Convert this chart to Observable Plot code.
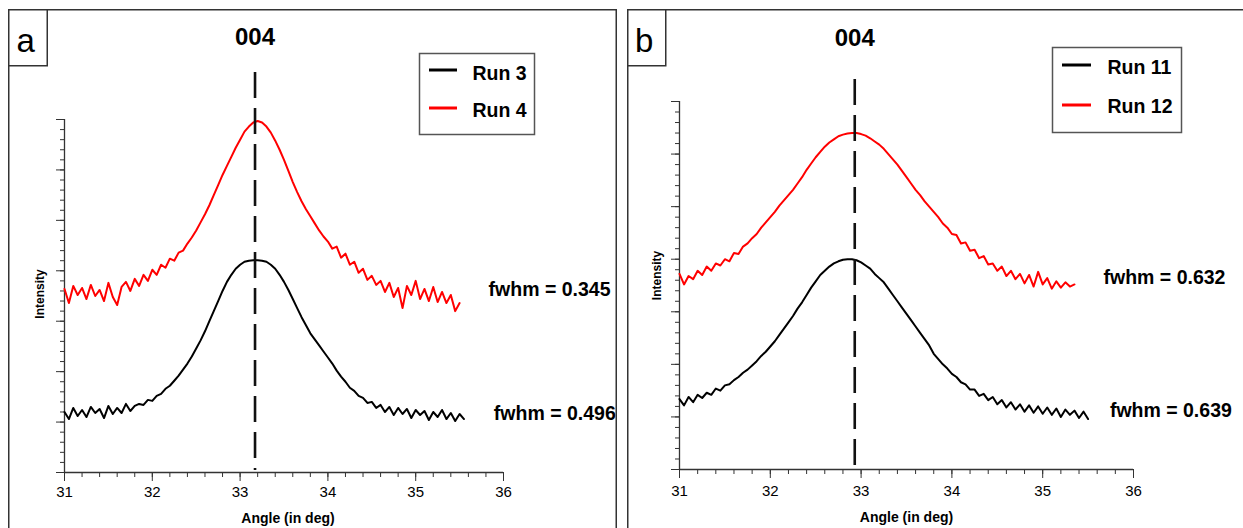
<!DOCTYPE html>
<html>
<head>
<meta charset="utf-8">
<script src="https://cdn.jsdelivr.net/npm/d3@7"></script>
<script src="https://cdn.jsdelivr.net/npm/@observablehq/plot@0.6"></script>
<style>
  html, body { margin: 0; padding: 0; background: #fff; }
  #root { position: relative; width: 1243px; height: 528px; overflow: hidden; font-family: "Liberation Sans", Arial, sans-serif; }
  .plot { position: absolute; }
  #overlay { position: absolute; left: 0; top: 0; pointer-events: none; }
</style>
</head>
<body>
<div id="root"></div>
<script>
// ---------------- data ----------------
const xMajorTicks = [31, 32, 33, 34, 35, 36];
const xMinorTicks = d3.range(31, 36.0001, 0.2);
const yMajorTicks = [0, 5, 10, 15, 20, 25, 30, 35];
const yMinorTicks = d3.range(0, 35.0001, 1);

const angleStart = 31.0;
const angleStep = 0.05;

// Panel a
const runLabelsA = ["Run 3", "Run 4"];
const fwhmLabelsA = ["fwhm = 0.496", "fwhm = 0.345"];
const reflectionA = "004";
const peakAngleA = 33.17;
const run3 = [6.0,5.3,6.4,5.6,6.2,5.5,6.5,5.9,6.3,5.4,
  6.6,5.8,6.4,5.9,6.8,6.1,6.6,6.8,6.7,7.2,
  7.1,7.6,7.8,8.3,8.6,9.1,9.6,10.2,10.8,11.5,
  12.3,13.1,14.0,15.0,16.0,17.0,18.0,18.9,19.6,20.2,
  20.6,20.9,21.0,21.05,21.05,21.0,20.9,20.6,20.2,19.6,
  18.9,18.1,17.2,16.3,15.4,14.6,13.8,13.2,12.6,12.0,
  11.4,10.8,10.1,9.5,9.0,8.4,8.1,7.6,7.4,6.9,
  7.0,6.4,6.7,6.0,6.5,5.7,6.4,5.8,6.3,5.4,
  6.2,5.7,6.1,5.2,6.0,5.5,6.2,5.3,5.9,5.1,
  5.8,5.3];
const run4 = [18.2,16.8,18.5,17.6,18.3,17.2,18.6,17.5,18.1,17.0,
  18.8,17.4,16.6,18.4,18.9,18.0,19.2,18.5,19.6,19.0,
  20.1,19.6,20.6,20.3,21.2,21.0,21.8,22.0,22.7,23.3,
  24.0,24.8,25.6,26.5,27.5,28.5,29.5,30.4,31.3,32.2,
  33.0,33.8,34.3,34.7,34.85,34.7,34.3,33.7,32.9,32.0,
  31.0,29.9,28.8,27.8,26.9,26.1,25.4,24.7,24.0,23.4,
  22.9,22.2,22.4,21.3,21.7,20.6,20.9,19.8,20.2,19.1,
  19.5,18.6,19.0,17.9,18.8,17.4,18.3,16.3,18.5,17.6,
  19.0,17.2,18.2,17.0,18.4,16.9,17.9,16.8,17.6,16.0,
  16.8];

// Panel b
const runLabelsB = ["Run 11", "Run 12"];
const fwhmLabelsB = ["fwhm = 0.639", "fwhm = 0.632"];
const reflectionB = "004";
const peakAngleB = 32.93;
const run11 = [6.7,6.1,6.9,6.4,7.1,6.8,7.3,7.1,7.7,7.5,
  8.0,8.1,8.5,8.8,9.2,9.5,9.9,10.3,10.8,11.2,
  11.7,12.2,12.8,13.4,14.0,14.6,15.3,15.9,16.6,17.3,
  17.9,18.5,18.9,19.3,19.6,19.8,19.95,20.0,20.0,19.9,
  19.7,19.4,19.1,18.6,18.2,17.8,17.2,16.6,16.0,15.4,
  14.8,14.2,13.6,13.0,12.4,11.8,11.0,10.5,10.0,9.6,
  9.1,8.8,8.3,8.1,7.6,7.6,7.0,7.2,6.6,6.9,
  6.2,6.6,5.9,6.4,5.7,6.2,5.5,6.1,5.4,6.0,
  5.3,5.9,5.2,5.8,5.0,5.7,5.2,5.6,4.9,5.5,
  4.8];
const run12 = [18.6,17.6,18.4,18.1,18.9,18.5,19.3,18.9,19.6,19.4,
  20.0,19.8,20.6,20.5,21.2,21.5,22.0,22.4,23.0,23.5,
  24.0,24.5,25.1,25.6,26.1,26.6,27.2,27.8,28.5,29.1,
  29.7,30.2,30.7,31.1,31.4,31.7,31.85,31.95,32.0,32.0,
  31.9,31.75,31.5,31.2,30.9,30.5,30.0,29.5,29.0,28.4,
  27.8,27.2,26.6,26.1,25.5,25.0,24.5,24.0,23.4,23.0,
  22.4,22.3,21.5,21.6,20.8,20.9,20.1,20.3,19.5,19.6,
  18.9,19.3,18.4,18.9,18.1,18.6,17.7,18.5,17.4,18.8,
  17.6,18.2,17.2,17.9,17.3,17.8,17.4,17.6];

// ---------------- helpers ----------------
const FONT = '"Liberation Sans", Arial, sans-serif';
const AXIS = "#333";
const runColors = ["#000000", "#ff0000"];

function toRows(values, run) {
  return values.map((v, i) => ({angle: +(angleStart + i * angleStep).toFixed(2), intensity: v, run}));
}

function makePanel(cfg) {
  const rows = [...toRows(cfg.series[0], cfg.runs[0]), ...toRows(cfg.series[1], cfg.runs[1])];
  const notes = cfg.fwhm.map((label, i) => ({label, angle: cfg.fwhmAt[i][0], intensity: cfg.fwhmAt[i][1]}));
  return Plot.plot({
    width: cfg.width, height: cfg.height,
    marginLeft: cfg.ml, marginRight: cfg.mr, marginTop: cfg.mt, marginBottom: cfg.mb,
    style: {background: "transparent", overflow: "visible", fontFamily: FONT, color: "#000"},
    x: {domain: [31, 36], label: null},
    y: {domain: [0, 35], label: null},
    color: {domain: cfg.runs, range: runColors},
    marks: [
      Plot.axisX({ticks: xMinorTicks, tickSize: 5, tickFormat: () => "", label: null, stroke: AXIS}),
      Plot.axisX({ticks: xMajorTicks, tickSize: 9, tickPadding: cfg.tickPad, fontSize: 15, tickFormat: d => String(d), label: null, stroke: AXIS, fill: "#000"}),
      Plot.axisY({ticks: yMinorTicks, tickSize: 4, tickFormat: () => "", label: null, stroke: AXIS}),
      Plot.axisY({ticks: yMajorTicks, tickSize: 8, tickFormat: () => "", label: null, stroke: AXIS}),
      Plot.ruleY([0], {stroke: AXIS, strokeWidth: 1.3}),
      Plot.ruleX([31], {stroke: AXIS, strokeWidth: 1.3}),
      Plot.line(rows, {x: "angle", y: "intensity", z: "run", stroke: "run", strokeWidth: 2}),
      Plot.ruleX([cfg.peak], {stroke: "#111", strokeWidth: 2.6, strokeDasharray: "26,10", insetTop: cfg.dashInset, insetBottom: 2}),
      Plot.text([cfg.reflection], {x: () => cfg.peak, frameAnchor: "top", dy: cfg.refDy, fontSize: 24, fontWeight: "bold", textAnchor: "middle", lineAnchor: "middle"}),
      Plot.text(notes, {x: "angle", y: "intensity", text: "label", textAnchor: "start", fontSize: 19.5, fontWeight: "bold"}),
      Plot.text(["Intensity"], {frameAnchor: "left", rotate: -90, dx: cfg.yLabelDx, dy: cfg.yLabelDy, textAnchor: "middle", lineAnchor: "middle", fontSize: 12, fontWeight: "bold"}),
      Plot.text(["Angle (in deg)"], {frameAnchor: "bottom", dy: cfg.xLabelDy, dx: cfg.xLabelDx, textAnchor: "middle", lineAnchor: "middle", fontSize: 14, fontWeight: "bold"})
    ]
  });
}

const root = document.getElementById("root");

function place(svg, left, top) {
  const d = document.createElement("div");
  d.className = "plot";
  d.style.left = left + "px";
  d.style.top = top + "px";
  d.appendChild(svg);
  root.appendChild(d);
}

place(makePanel({
  width: 609, height: 519, ml: 56, mr: 114, mt: 110, mb: 56, tickPad: 5,
  series: [run3, run4], runs: runLabelsA, fwhm: fwhmLabelsA,
  fwhmAt: [[35.89, 5.85], [35.83, 18.1]],
  peak: peakAngleA, reflection: reflectionA, dashInset: -47, refDy: -82,
  yLabelDx: -24, yLabelDy: -2, xLabelDy: 46, xLabelDx: 4
}), 8, 9);

place(makePanel({
  width: 616, height: 519, ml: 52, mr: 110, mt: 92, mb: 59, tickPad: 7,
  series: [run11, run12], runs: runLabelsB, fwhm: fwhmLabelsB,
  fwhmAt: [[35.74, 5.6], [35.67, 18.2]],
  peak: peakAngleB, reflection: reflectionB, dashInset: -22, refDy: -63,
  yLabelDx: -22, yLabelDy: -10, xLabelDy: 48, xLabelDx: 0
}), 627, 9);

// ---------------- frames, panel tags, legends ----------------
const ov = d3.select(root).append("svg").attr("id", "overlay")
  .attr("width", 1243).attr("height", 528).attr("font-family", FONT);

const frameStroke = "#333";
ov.append("path").attr("d", "M8.75,528V9.75H616.25V528").attr("fill", "none").attr("stroke", frameStroke).attr("stroke-width", 1.5);
ov.append("path").attr("d", "M627.75,528V9.75H1243").attr("fill", "none").attr("stroke", frameStroke).attr("stroke-width", 1.5);

function tag(x, y, w, h, letter, tx) {
  ov.append("rect").attr("x", x).attr("y", y).attr("width", w).attr("height", h)
    .attr("fill", "#fff").attr("stroke", frameStroke).attr("stroke-width", 1.5);
  ov.append("text").attr("x", tx).attr("y", 52).attr("font-size", 33).attr("fill", "#000").text(letter);
}
tag(8.75, 9.75, 38.5, 56, "a", 16.5);
tag(627.75, 9.75, 38, 56, "b", 635);

function legend(box, lineX, lineYs, textX, textYs, labels) {
  ov.append("rect").attr("x", box[0]).attr("y", box[1]).attr("width", box[2]).attr("height", box[3])
    .attr("fill", "#fff").attr("stroke", "#555").attr("stroke-width", 1.5);
  labels.forEach((lab, i) => {
    ov.append("line").attr("x1", lineX[0]).attr("x2", lineX[1]).attr("y1", lineYs[i]).attr("y2", lineYs[i])
      .attr("stroke", runColors[i]).attr("stroke-width", 3);
    ov.append("text").attr("x", textX).attr("y", textYs[i]).attr("font-size", 19.5).attr("font-weight", "bold")
      .attr("fill", "#000").text(lab);
  });
}
legend([419.5, 53.5, 115, 81], [429, 457], [70, 108], 472.5, [80, 117], runLabelsA);
legend([1052.5, 47.5, 129, 85], [1062, 1091], [65, 105], 1107.5, [73.5, 113], runLabelsB);
</script>
</body>
</html>
